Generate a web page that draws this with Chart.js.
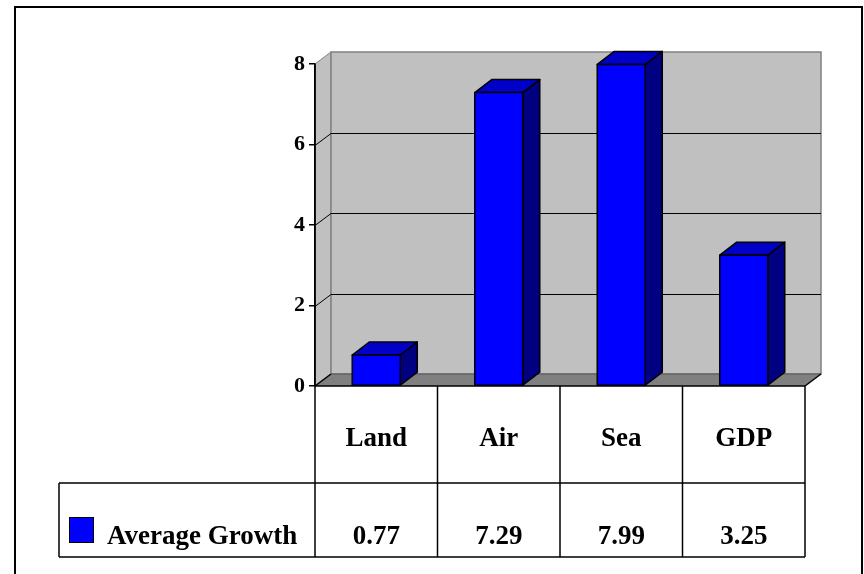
<html>
<head>
<meta charset="utf-8">
<title>Average Growth</title>
<script src="https://cdn.jsdelivr.net/npm/chart.js@4/dist/chart.umd.min.js"></script>
<style>
	body{margin:0;background:#fff;}
	#box{width:864px;height:574px;position:relative;}
</style>
</head>
<body>
<div id="box"><canvas id="ctx" width="864" height="574"></canvas></div>
<script>
var categories = ['Land', 'Air', 'Sea', 'GDP'];
var averageGrowth = [0.77, 7.29, 7.99, 3.25];
var yTicks = [0, 2, 4, 6, 8];
var seriesName = 'Average Growth';

// depth of the 3d look
var wallDx = 16, wallDy = -12;
var barDx = 17, barDy = -13;
var serif = '"Liberation Serif", "Times New Roman", serif';

function poly(c, pts, fill, stroke, lw){
	c.beginPath();
	c.moveTo(pts[0][0], pts[0][1]);
	for (var i = 1; i < pts.length; i++) c.lineTo(pts[i][0], pts[i][1]);
	c.closePath();
	if (fill){ c.fillStyle = fill; c.fill(); }
	if (stroke){ c.strokeStyle = stroke; c.lineWidth = lw || 1; c.stroke(); }
}

var walls = {
	id: 'walls',
	beforeDraw: function(chart){
		var c = chart.ctx, y = chart.scales.y, a = chart.chartArea;
		var top = y.getPixelForValue(yTicks[yTicks.length-1]), bot = y.getPixelForValue(0);
		var L = a.left, R = a.right;
		c.save();
		// side wall
		poly(c, [[L,top],[L+wallDx,top+wallDy],[L+wallDx,bot+wallDy],[L,bot]], '#c0c0c0', '#808080', 1);
		// back wall
		poly(c, [[L+wallDx,top+wallDy],[R+wallDx,top+wallDy],[R+wallDx,bot+wallDy],[L+wallDx,bot+wallDy]], '#c0c0c0', '#808080', 1.5);
		// floor
		poly(c, [[L,bot],[L+wallDx,bot+wallDy],[R+wallDx,bot+wallDy],[R,bot]], '#808080', null);
		c.strokeStyle = '#555'; c.lineWidth = 1;
		c.beginPath(); c.moveTo(L+wallDx, bot+wallDy); c.lineTo(R+wallDx, bot+wallDy); c.stroke();
		c.strokeStyle = '#000'; c.lineWidth = 1.5;
		c.beginPath(); c.moveTo(R, bot); c.lineTo(R+wallDx, bot+wallDy); c.stroke();
		c.beginPath(); c.moveTo(L, bot); c.lineTo(L+wallDx, bot+wallDy); c.stroke();
		// grid lines
		c.strokeStyle = '#000'; c.lineWidth = 1;
		yTicks.forEach(function(v){
			if (v === 0 || v === yTicks[yTicks.length-1]) return;
			var py = Math.round(y.getPixelForValue(v)) + 0.5;
			c.beginPath();
			c.moveTo(L, py); c.lineTo(L+wallDx, py+wallDy); c.lineTo(R+wallDx, py+wallDy);
			c.stroke();
		});
		c.restore();
	},
	afterDatasetsDraw: function(chart){
		var c = chart.ctx;
		var meta = chart.getDatasetMeta(0);
		c.save();
		c.lineJoin = 'round';
		meta.data.forEach(function(bar){
			var p = bar.getProps(['x','y','base','width'], true);
			var l = p.x - p.width/2, r = p.x + p.width/2, t = p.y, b = p.base;
			poly(c, [[r,t],[r+barDx,t+barDy],[r+barDx,b+barDy],[r,b]], '#000080', '#000', 1.5);
			poly(c, [[l,t],[l+barDx,t+barDy],[r+barDx,t+barDy],[r,t]], '#0000c8', '#000', 1.5);
			poly(c, [[l,t],[r,t],[r,b],[l,b]], '#0000ff', '#000', 1.5);
		});
		c.restore();
	},
	afterDraw: function(chart){
		var c = chart.ctx, x = chart.scales.x, a = chart.chartArea;
		var L = a.left, R = a.right, t0 = a.bottom, t1 = 483, t2 = 557, legL = 59;
		var colW = (R - L) / categories.length;
		c.save();
		c.strokeStyle = '#000'; c.lineWidth = 1.5;
		c.beginPath();
		c.moveTo(L, t0); c.lineTo(R, t0);
		c.moveTo(legL, t1); c.lineTo(R, t1);
		c.moveTo(legL, t2); c.lineTo(R, t2);
		c.moveTo(legL, t1); c.lineTo(legL, t2);
		for (var i = 0; i <= categories.length; i++){
			c.moveTo(L + colW*i, t0); c.lineTo(L + colW*i, t2);
		}
		c.stroke();
		// axis line on top of the walls
		c.beginPath(); c.moveTo(L, a.top); c.lineTo(L, t0); c.stroke();

		c.fillStyle = '#000';
		c.font = 'bold 27px ' + serif;
		c.textAlign = 'center'; c.textBaseline = 'alphabetic';
		categories.forEach(function(cat, i){
			var cx = x.getPixelForValue(i);
			c.fillText(cat, cx, 446);
			c.fillText(averageGrowth[i].toFixed(2), cx, 544);
		});
		// legend key
		c.fillStyle = '#0000ff';
		c.fillRect(69, 517, 25, 26);
		c.lineWidth = 1; c.strokeStyle = '#000';
		c.strokeRect(69.5, 517.5, 24, 25);
		c.fillStyle = '#000'; c.textAlign = 'left';
		c.fillText(seriesName, 107, 544);

		// outer frame
		c.lineWidth = 2;
		c.beginPath();
		c.moveTo(15, 580); c.lineTo(15, 7); c.lineTo(862, 7); c.lineTo(862, 580);
		c.stroke();
		c.restore();
	}
};

var ctx = document.getElementById('ctx');
var growthChart = new Chart(ctx, {
	type: 'bar',
	data: {
		labels: categories,
		datasets: [{
			label: seriesName,
			data: averageGrowth,
			backgroundColor: 'rgba(0,0,0,0)',
			borderWidth: 0,
			barPercentage: 0.392,
			categoryPercentage: 1
		}]
	},
	options: {
		responsive: false,
		animation: false,
		events: [],
		layout: { padding: { left: 275, right: 59, top: 64, bottom: 188 } },
		plugins: { legend: { display: false }, tooltip: { enabled: false } },
		scales: {
			x: { display: false },
			y: {
				min: 0, max: 8,
				afterFit: function(s){ s.width = 40; },
				afterBuildTicks: function(s){ s.ticks = yTicks.map(function(v){ return { value: v }; }); },
				grid: { drawOnChartArea: false, tickLength: 6, color: '#000', lineWidth: 1.5 },
				border: { display: true, color: '#000', width: 1.5 },
				ticks: { color: '#000', padding: 4, font: { family: serif, size: 22, weight: 'bold' } }
			}
		}
	},
	plugins: [walls]
});
</script>
</body>
</html>
